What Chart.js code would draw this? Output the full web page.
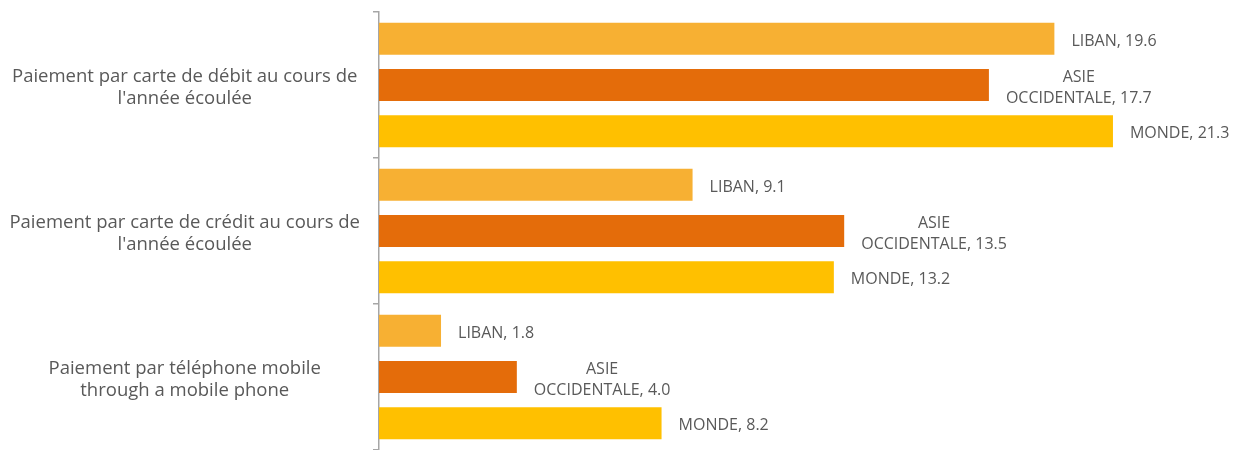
<!DOCTYPE html>
<html>
<head>
<meta charset="utf-8">
<script src="https://cdn.jsdelivr.net/npm/chart.js@4.4.0/dist/chart.umd.min.js"></script>
<style>
  html, body { margin: 0; padding: 0; background: #fff; }
  #wrap { width: 1237px; height: 450px; position: relative; }
</style>
</head>
<body>
<div id="wrap"><canvas id="payments-chart"></canvas></div>
<script>
const categories = [
  ['Paiement par carte de débit au cours de', "l'année écoulée"],
  ['Paiement par carte de crédit au cours de', "l'année écoulée"],
  ['Paiement par téléphone mobile', 'through a mobile phone']
];
const seriesNames = ['LIBAN', 'ASIE OCCIDENTALE', 'MONDE'];
const libanValues = [19.6, 9.1, 1.8];
const asieValues = [17.7, 13.5, 4.0];
const mondeValues = [21.3, 13.2, 8.2];

const colors = ['#F7B033', '#E46C0A', '#FFC000'];
const textColor = '#595959';
const axisColor = '#A6A6A6';

// value labels to the right of each bar, "ASIE OCCIDENTALE" wraps on two lines
const barLabels = {
  id: 'barLabels',
  afterDatasetsDraw(chart) {
    const ctx = chart.ctx;
    ctx.save();
    ctx.font = '16px "Open Sans", sans-serif';
    ctx.fillStyle = textColor;
    ctx.textBaseline = 'middle';
    chart.data.datasets.forEach((ds, i) => {
      const meta = chart.getDatasetMeta(i);
      meta.data.forEach((bar, j) => {
        const val = ds.data[j].toFixed(1);
        let lines;
        if (ds.label === 'ASIE OCCIDENTALE') {
          lines = ['ASIE', 'OCCIDENTALE, ' + val];
        } else {
          lines = [ds.label + ', ' + val];
        }
        const w = Math.max(...lines.map(l => ctx.measureText(l).width));
        const cx = bar.x + 17 + w / 2;
        const lh = 21;
        const top = bar.y + 2.5 - (lines.length - 1) * lh / 2;
        ctx.textAlign = 'center';
        lines.forEach((l, k) => ctx.fillText(l, cx, top + k * lh));
      });
    });
    ctx.restore();
  }
};

const ctx = document.getElementById('payments-chart').getContext('2d');
new Chart(ctx, {
  type: 'bar',
  data: {
    labels: categories,
    datasets: [
      { label: seriesNames[0], data: libanValues, backgroundColor: colors[0] },
      { label: seriesNames[1], data: asieValues, backgroundColor: colors[1] },
      { label: seriesNames[2], data: mondeValues, backgroundColor: colors[2] }
    ]
  },
  options: {
    indexAxis: 'y',
    responsive: true,
    maintainAspectRatio: false,
    animation: false,
    layout: { padding: { top: 12, right: 31, bottom: 0, left: 0 } },
    datasets: {
      bar: { categoryPercentage: 0.952, barPercentage: 0.69 }
    },
    plugins: {
      legend: { display: false },
      title: { display: false },
      tooltip: { enabled: false }
    },
    scales: {
      x: {
        display: false,
        min: 0,
        max: 24
      },
      y: {
        afterFit(scale) {
          scale.width = 379;
          scale.paddingTop = 0;
          scale.paddingBottom = 0;
        },
        border: { display: true, color: axisColor, width: 1.5 },
        grid: {
          offset: true,
          drawOnChartArea: false,
          drawTicks: true,
          tickLength: 6,
          color: axisColor,
          lineWidth: 1.5
        },
        ticks: {
          crossAlign: 'center',
          padding: 13,
          labelOffset: 3,
          color: textColor,
          font: { family: '"Open Sans", sans-serif', size: 18.5 }
        }
      }
    }
  },
  plugins: [barLabels]
});
</script>
</body>
</html>
